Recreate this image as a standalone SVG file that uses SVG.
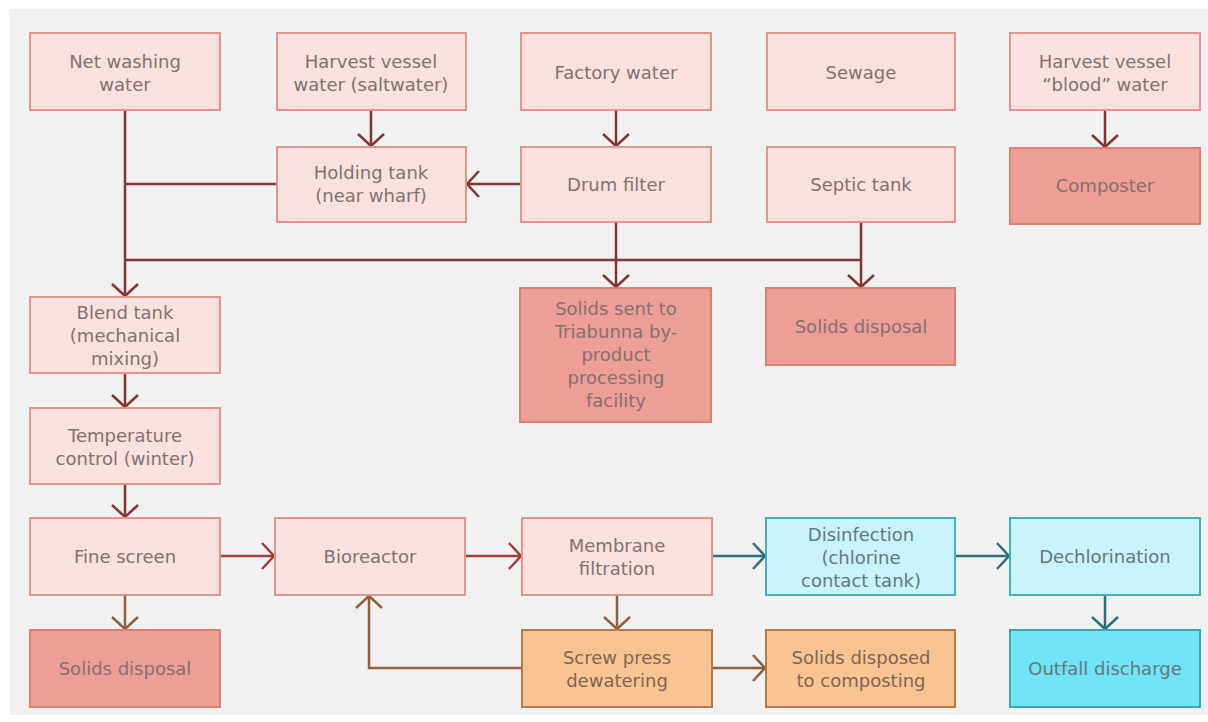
<svg xmlns="http://www.w3.org/2000/svg" width="1208" height="722" viewBox="0 0 1208 722">
<style>
.b{stroke-width:2}
.p{fill:#fae0de;stroke:#e2958c}
.d{fill:#ee9f95;stroke:#de7f74}
.o{fill:#f9c494;stroke:#b97a45}
.c{fill:#c9f3fa;stroke:#47aebc}
.cc{fill:#70e3f6;stroke:#3aa7b6}
text{font-family:"DejaVu Sans","Liberation Sans",sans-serif;font-size:18px;text-anchor:middle;fill:#857171}
.c+text,.cc+text{fill:#627a7e}
.o+text{fill:#806652}
.l{fill:none;stroke-width:2.5}
.r{stroke:#833535}
.r2{stroke:#a23c3c}
.br{stroke:#8e6040}
.t{stroke:#2f6f75}
</style>
<defs>
<marker id="ar" viewBox="0 0 14 28" refX="13" refY="14" markerWidth="14" markerHeight="28" markerUnits="userSpaceOnUse" orient="auto"><path d="M1,1 L13,14 L1,27" fill="none" stroke="#833535" stroke-width="2.5"/></marker>
<marker id="ar2" viewBox="0 0 14 28" refX="13" refY="14" markerWidth="14" markerHeight="28" markerUnits="userSpaceOnUse" orient="auto"><path d="M1,1 L13,14 L1,27" fill="none" stroke="#a23c3c" stroke-width="2.5"/></marker>
<marker id="ab" viewBox="0 0 14 28" refX="13" refY="14" markerWidth="14" markerHeight="28" markerUnits="userSpaceOnUse" orient="auto"><path d="M1,1 L13,14 L1,27" fill="none" stroke="#8e6040" stroke-width="2.5"/></marker>
<marker id="at" viewBox="0 0 14 28" refX="13" refY="14" markerWidth="14" markerHeight="28" markerUnits="userSpaceOnUse" orient="auto"><path d="M1,1 L13,14 L1,27" fill="none" stroke="#2f6f75" stroke-width="2.5"/></marker>
</defs>
<rect x="0" y="0" width="1208" height="722" fill="#ffffff"/>
<rect x="10" y="9" width="1198" height="706" fill="#f1f1f1"/>

<g id="connectors">
<path class="l r" d="M125,110 V296" marker-end="url(#ar)"/>
<path class="l r" d="M277,184 H125"/>
<path class="l r" d="M125,260 H861"/>
<path class="l r" d="M371,110 V146" marker-end="url(#ar)"/>
<path class="l r" d="M616,110 V146" marker-end="url(#ar)"/>
<path class="l r" d="M521,184 H467" marker-end="url(#ar)"/>
<path class="l r" d="M616,222 V287" marker-end="url(#ar)"/>
<path class="l r" d="M861,222 V287" marker-end="url(#ar)"/>
<path class="l r" d="M1105,110 V147" marker-end="url(#ar)"/>
<path class="l r" d="M125,373 V407" marker-end="url(#ar)"/>
<path class="l r" d="M125,484 V517" marker-end="url(#ar)"/>
<path class="l r2" d="M220,556 H274" marker-end="url(#ar2)"/>
<path class="l r2" d="M465,556 H521" marker-end="url(#ar2)"/>
<path class="l t" d="M712,556 H765" marker-end="url(#at)"/>
<path class="l t" d="M955,556 H1009" marker-end="url(#at)"/>
<path class="l t" d="M1105,595 V629" marker-end="url(#at)"/>
<path class="l br" d="M125,595 V629" marker-end="url(#ab)"/>
<path class="l br" d="M617,595 V629" marker-end="url(#ab)"/>
<path class="l br" d="M522,668 H369 V596" marker-end="url(#ab)"/>
<path class="l br" d="M712,668 H765" marker-end="url(#ab)"/>
</g>

<g id="net-washing"><rect class="b p" x="30" y="33" width="190" height="77"/><text x="125" y="68">Net washing<tspan x="125" dy="23">water</tspan></text></g>
<g id="harvest-salt"><rect class="b p" x="277" y="33" width="189" height="77"/><text x="371" y="68">Harvest vessel<tspan x="371" dy="23">water (saltwater)</tspan></text></g>
<g id="factory-water"><rect class="b p" x="521" y="33" width="190" height="77"/><text x="616" y="79">Factory water</text></g>
<g id="sewage"><rect class="b p" x="767" y="33" width="188" height="77"/><text x="861" y="79">Sewage</text></g>
<g id="harvest-blood"><rect class="b p" x="1010" y="33" width="190" height="77"/><text x="1105" y="68">Harvest vessel<tspan x="1105" dy="23">“blood” water</tspan></text></g>

<g id="holding-tank"><rect class="b p" x="277" y="147" width="189" height="75"/><text x="371" y="179">Holding tank<tspan x="371" dy="23">(near wharf)</tspan></text></g>
<g id="drum-filter"><rect class="b p" x="521" y="147" width="190" height="75"/><text x="616" y="191">Drum filter</text></g>
<g id="septic-tank"><rect class="b p" x="767" y="147" width="188" height="75"/><text x="861" y="191">Septic tank</text></g>
<g id="composter"><rect class="b d" x="1010" y="148" width="190" height="76"/><text x="1105" y="192">Composter</text></g>

<g id="blend-tank"><rect class="b p" x="30" y="297" width="190" height="76"/><text x="125" y="319">Blend tank<tspan x="125" dy="23">(mechanical</tspan><tspan x="125" dy="23">mixing)</tspan></text></g>
<g id="solids-triabunna"><rect class="b d" x="520" y="288" width="191" height="134"/><text x="616" y="315">Solids sent to<tspan x="616" dy="23">Triabunna by-</tspan><tspan x="616" dy="23">product</tspan><tspan x="616" dy="23">processing</tspan><tspan x="616" dy="23">facility</tspan></text></g>
<g id="solids-disposal-top"><rect class="b d" x="766" y="288" width="189" height="77"/><text x="861" y="333">Solids disposal</text></g>

<g id="temperature-control"><rect class="b p" x="30" y="408" width="190" height="76"/><text x="125" y="442">Temperature<tspan x="125" dy="23">control (winter)</tspan></text></g>

<g id="fine-screen"><rect class="b p" x="30" y="518" width="190" height="77"/><text x="125" y="563">Fine screen</text></g>
<g id="bioreactor"><rect class="b p" x="275" y="518" width="190" height="77"/><text x="370" y="563">Bioreactor</text></g>
<g id="membrane-filtration"><rect class="b p" x="522" y="518" width="190" height="77"/><text x="617" y="552">Membrane<tspan x="617" dy="23">filtration</tspan></text></g>
<g id="disinfection"><rect class="b c" x="766" y="518" width="189" height="77"/><text x="861" y="541">Disinfection<tspan x="861" dy="23">(chlorine</tspan><tspan x="861" dy="23">contact tank)</tspan></text></g>
<g id="dechlorination"><rect class="b c" x="1010" y="518" width="190" height="77"/><text x="1105" y="563">Dechlorination</text></g>

<g id="solids-disposal-bottom"><rect class="b d" x="30" y="630" width="190" height="77"/><text x="125" y="675">Solids disposal</text></g>
<g id="screw-press"><rect class="b o" x="522" y="630" width="190" height="77"/><text x="617" y="664">Screw press<tspan x="617" dy="23">dewatering</tspan></text></g>
<g id="solids-composting"><rect class="b o" x="766" y="630" width="189" height="77"/><text x="861" y="664">Solids disposed<tspan x="861" dy="23">to composting</tspan></text></g>
<g id="outfall"><rect class="b cc" x="1010" y="630" width="190" height="77"/><text x="1105" y="675">Outfall discharge</text></g>
</svg>
